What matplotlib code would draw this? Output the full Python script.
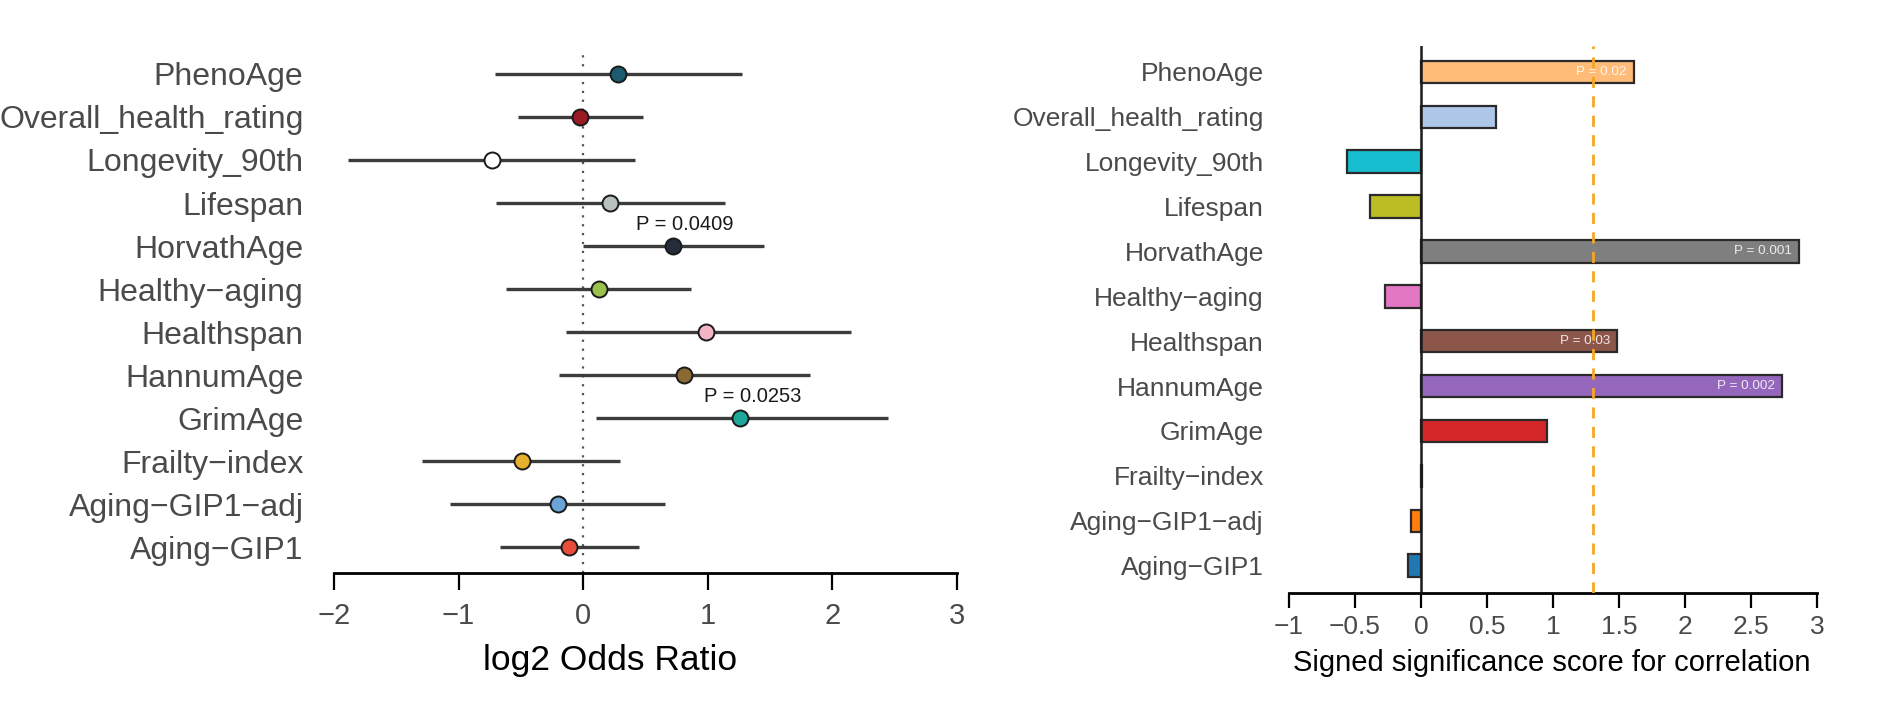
import numpy as np
import matplotlib.pyplot as plt

plt.rcParams['font.family'] = ['Liberation Sans', 'DejaVu Sans']

# traits, top to bottom
traits = ['PhenoAge', 'Overall_health_rating', 'Longevity_90th', 'Lifespan',
          'HorvathAge', 'Healthy\u2212aging', 'Healthspan', 'HannumAge',
          'GrimAge', 'Frailty\u2212index', 'Aging\u2212GIP1\u2212adj', 'Aging\u2212GIP1']

# left: log2 odds ratio with interval
log2_or = [0.28, -0.025, -0.73, 0.22, 0.72, 0.13, 0.99, 0.81, 1.26, -0.49, -0.20, -0.115]
or_lo = [-0.71, -0.525, -1.885, -0.70, 0.0, -0.62, -0.135, -0.19, 0.10, -1.29, -1.065, -0.67]
or_hi = [1.28, 0.48, 0.42, 1.14, 1.45, 0.87, 2.15, 1.82, 2.45, 0.30, 0.66, 0.45]
or_pvals = ['', '', '', '', 'P = 0.0409', '', '', '', 'P = 0.0253', '', '', '']
point_colors = ['#1d5c70', '#9a1b24', '#ffffff', '#b9c1bd', '#252d3b', '#99c24d',
                '#f3b5c5', '#8a6a33', '#1fa79a', '#e6b02e', '#6aa3d6', '#ea4c3b']

# right: signed significance score
scores = [1.61, 0.57, -0.56, -0.385, 2.86, -0.275, 1.485, 2.73, 0.955, 0.012, -0.075, -0.095]
score_pvals = ['P = 0.02', '', '', '', 'P = 0.001', '', 'P = 0.03', 'P = 0.002', '', '', '', '']
bar_colors = ['#ffbb78', '#aec7e8', '#17becf', '#bcbd22', '#7f7f7f', '#e377c2',
              '#8c564b', '#9467bd', '#d62728', '#2ca02c', '#ff7f0e', '#1f77b4']
threshold = -np.log10(0.05)

n = len(traits)
y = np.arange(n, 0, -1)
label_col = '#4a4a4a'

fig = plt.figure(figsize=(18.87, 7.09), dpi=100)

# ---------------- forest plot
ax1 = fig.add_axes([0.177, 0.192, 0.33, 0.739])
ax1.axvline(0, color='#555555', lw=1.6, ls=(0, (1, 3)), zorder=1)
for i in range(n):
    ax1.plot([or_lo[i], or_hi[i]], [y[i], y[i]], color='#3c3c3c', lw=2.4,
             solid_capstyle='butt', zorder=2, clip_on=False)
    ax1.plot(log2_or[i], y[i], 'o', ms=11.5, mfc=point_colors[i], mec='#1a1a1a',
             mew=1.4, zorder=3, clip_on=False)
    if or_pvals[i]:
        ax1.text(log2_or[i] + 0.1, y[i] + 0.5, or_pvals[i], ha='center', va='center',
                 fontsize=14.5, color='#1a1a1a')
ax1.set_xlim(-2, 3)
ax1.set_ylim(0.41, 12.58)
ax1.set_yticks(y)
ax1.set_yticklabels(traits, fontsize=23, color=label_col)
ax1.tick_params(axis='y', length=0, pad=22)
ax1.set_xticks([-2, -1, 0, 1, 2, 3])
ax1.tick_params(axis='x', length=12, width=1.6, pad=9, labelsize=21, labelcolor=label_col)
for s in ['left', 'right', 'top']:
    ax1.spines[s].set_visible(False)
ax1.spines['bottom'].set_linewidth(2)
ax1.spines['bottom'].set_bounds(-2, 3)
ax1.set_xlabel('log2 Odds Ratio', fontsize=25.5, color='black')
ax1.xaxis.set_label_coords(0.443, -0.135)

# ---------------- bar plot
ax2 = fig.add_axes([0.683, 0.1636, 0.28, 0.772])
ax2.barh(y, scores, height=0.5, color=bar_colors, edgecolor='#2a2a2a', linewidth=1.6, zorder=2)
for i in range(n):
    if score_pvals[i]:
        ax2.text(scores[i] - 0.05, y[i], score_pvals[i], ha='right', va='center',
                 fontsize=9.7, color='white', alpha=0.85, zorder=3)
ax2.axvline(0, color='#1a1a1a', lw=1.8, zorder=3)
ax2.axvline(threshold, color='#f5a623', lw=2, ls=(0, (4, 3)), zorder=4)
ax2.set_xlim(-1, 3)
ax2.set_ylim(0.39, 12.586)
ax2.set_yticks(y)
ax2.set_yticklabels(traits, fontsize=19, color=label_col)
ax2.tick_params(axis='y', length=0, pad=18)
ticks = [-1, -0.5, 0, 0.5, 1, 1.5, 2, 2.5, 3]
ax2.set_xticks(ticks)
ax2.set_xticklabels([('%g' % t).replace('-', '\u2212') for t in ticks])
ax2.tick_params(axis='x', length=11, width=1.6, pad=5, labelsize=19, labelcolor=label_col)
for s in ['left', 'right', 'top']:
    ax2.spines[s].set_visible(False)
ax2.spines['bottom'].set_linewidth(2)
ax2.spines['bottom'].set_bounds(-1, 3)
ax2.set_xlabel('Signed significance score for correlation', fontsize=21, color='black')
ax2.xaxis.set_label_coords(0.498, -0.102)

fig.savefig('out.png', dpi=100)
